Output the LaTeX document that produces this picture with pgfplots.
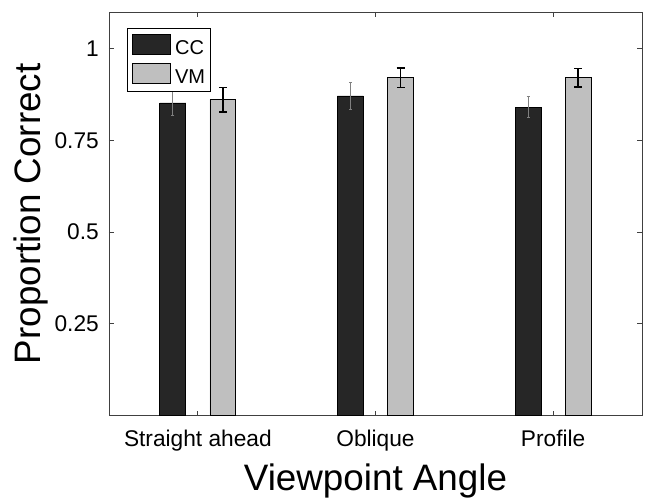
\documentclass[border=0pt]{standalone}
\usepackage{fontspec}
\setmainfont{Liberation Sans}
\usepackage{pgfplots}
\pgfplotsset{compat=1.18}
\definecolor{ccfill}{HTML}{262626}
\definecolor{vmfill}{HTML}{BFBFBF}
\definecolor{axgray}{HTML}{404040}
\begin{document}
\begin{tikzpicture}
\begin{axis}[
  scale only axis, width=533pt, height=403.5pt,
  xmin=0.5, xmax=3.5, ymin=0, ymax=1.1,
  xtick={1,2,3}, xticklabels={Straight ahead, Oblique, Profile},
  ytick={0.25,0.5,0.75,1}, yticklabels={0.25,0.5,0.75,1},
  tick pos=both, tick align=inside, major tick length=5pt,
  axis line style={axgray, line width=0.8pt},
  every tick/.style={axgray, line width=0.8pt},
  /pgf/number format/assume math mode=true,
  x tick label style={font=\fontsize{22.7}{27}\selectfont, anchor=base, inner sep=0pt, yshift=-31pt},
  y tick label style={font=\fontsize{22.7}{27}\selectfont, anchor=east, inner sep=0pt, xshift=-10pt},
  xlabel={Viewpoint Angle}, ylabel={Proportion Correct},
  label style={font=\fontsize{36.8}{44}\selectfont},
  xlabel style={at={(axis description cs:0.5,-0.1859)}, anchor=base, inner sep=0pt},
  ylabel style={at={(axis description cs:-0.1283,0.5)}, anchor=base, inner sep=0pt},
  legend style={at={(axis description cs:0.0338,0.9603)}, anchor=north west,
    draw=black, line width=0.6pt, fill=white,
    font=\fontsize{20}{24}\selectfont,
    inner xsep=5pt, inner ysep=6pt, row sep=7pt, column sep=4pt,
    nodes={inner sep=0pt}},
  legend cell align=left,
]
\addplot[ybar, bar width=0.146, bar shift=0pt, fill=ccfill, draw=black, line width=0.8pt,
  legend image code/.code={\draw[fill=ccfill, draw=black, line width=0.8pt] (0pt,-6pt) rectangle (38pt,14pt);},
  error bars/.cd, y dir=both, y explicit,
  error bar style={gray, line width=1pt},
  error mark=|, error mark options={gray, line width=1pt, mark size=1.5pt}]
coordinates {(0.859,0.852) +- (0,0.035) (1.859,0.871) +- (0,0.037) (2.859,0.841) +- (0,0.029)};
\addlegendentry{CC}
\addplot[ybar, bar width=0.146, bar shift=0pt, fill=vmfill, draw=black, line width=0.8pt,
  legend image code/.code={\draw[fill=vmfill, draw=black, line width=0.8pt] (0pt,-6pt) rectangle (38pt,14pt);},
  error bars/.cd, y dir=both, y explicit,
  error bar style={black, line width=1.5pt},
  error mark=|, error mark options={black, line width=1.5pt, mark size=4pt}]
coordinates {(1.141,0.861) +- (0,0.033) (2.141,0.921) +- (0,0.027) (3.141,0.921) +- (0,0.025)};
\addlegendentry{VM}
\end{axis}
\pgfresetboundingbox
\path ([shift={(-109pt,-82.5pt)}]current axis.south west) rectangle ([shift={(5pt,12pt)}]current axis.north east);
\end{tikzpicture}
\end{document}
